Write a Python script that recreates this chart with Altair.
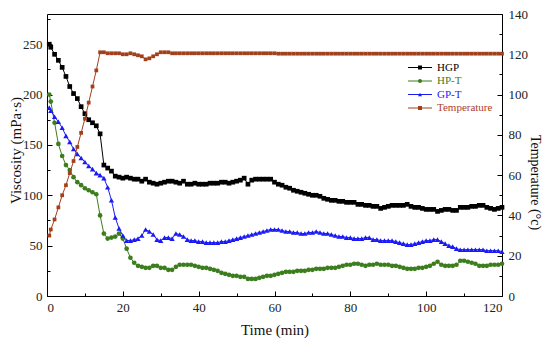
import altair as alt
import pandas as pd

FONT = "Liberation Serif"

# time axis (min)
times = [0.6] + list(range(1, 121))

hgp = [250,
       247, 240, 234, 227, 218, 208, 201, 196, 188, 181,
       175, 172, 169, 161, 130, 127, 124, 119, 118, 117,
       118, 117, 116, 116, 114, 116, 113, 112, 111, 112,
       113, 114, 114, 113, 112, 114, 111, 111, 112, 111,
       111, 111, 112, 112, 112, 113, 113, 112, 113, 114,
       115, 117, 111, 115, 116, 116, 116, 116, 116, 113,
       111, 110, 108, 107, 105, 104, 103, 102, 101, 100,
       100, 99, 97, 96, 95, 95, 94, 94, 93, 93,
       93, 91, 91, 90, 90, 89, 89, 87, 88, 89,
       90, 90, 90, 90, 91, 89, 88, 88, 87, 86,
       86, 86, 84, 85, 86, 86, 85, 85, 88, 88,
       88, 89, 89, 90, 90, 88, 87, 86, 87, 88]

hpt = [200,
       193, 172, 151, 139, 130, 125, 118, 113, 110, 107,
       105, 103, 101, 80, 62, 57, 58, 59, 62, 57,
       47, 38, 33, 30, 29, 28, 28, 30, 30, 28,
       28, 26, 26, 29, 31, 31, 31, 31, 30, 29,
       28, 28, 27, 26, 25, 23, 22, 21, 20, 20,
       19, 19, 17, 17, 17, 18, 19, 20, 20, 21,
       22, 23, 24, 24, 24, 25, 25, 25, 26, 26,
       27, 27, 27, 28, 28, 28, 29, 30, 31, 31,
       32, 32, 31, 30, 31, 31, 32, 31, 31, 31,
       30, 30, 29, 28, 27, 27, 27, 28, 28, 29,
       30, 32, 34, 31, 30, 30, 30, 31, 35, 35,
       34, 33, 32, 30, 30, 30, 31, 31, 31, 32]

gpt = [187,
       184, 178, 173, 167, 159, 153, 146, 141, 137, 133,
       129, 126, 122, 120, 117, 108, 95, 78, 67, 60,
       55, 55, 56, 57, 60, 66, 64, 61, 56, 55,
       58, 58, 57, 62, 61, 59, 56, 55, 55, 54,
       54, 53, 53, 53, 53, 54, 54, 55, 56, 57,
       58, 59, 60, 61, 62, 63, 64, 65, 66, 66,
       66, 65, 64, 64, 63, 63, 62, 62, 63, 63,
       64, 63, 62, 62, 61, 60, 59, 59, 58, 58,
       57, 57, 57, 58, 58, 56, 56, 55, 55, 55,
       55, 54, 53, 52, 51, 51, 52, 53, 54, 55,
       55, 56, 56, 54, 52, 50, 49, 47, 46, 46,
       46, 46, 46, 46, 46, 45, 45, 45, 45, 44]

temperature = [30,
               33, 38, 44, 50, 55, 61, 67, 74, 81, 88,
               96, 104, 112, 121, 121, 120.5, 120.5, 120.5, 120.5, 120,
               120, 120.5, 120, 119.5, 119, 117.5, 118, 119, 120, 121,
               121, 121, 120.5, 120.5, 120.5, 120.5, 120.5, 120.5, 120.5, 120.5,
               120.5, 120.5, 120.5, 120.5, 120.5, 120.5, 120.5, 120.5, 120.5, 120.5,
               120.5, 120.5, 120.5, 120.5, 120.5, 120.5, 120.5, 120.5, 120.5, 120.5,
               120.3, 120.3, 120.3, 120.3, 120.3, 120.3, 120.3, 120.3, 120.3, 120.3,
               120.3, 120.3, 120.3, 120.3, 120.3, 120.3, 120.3, 120.3, 120.3, 120.3,
               120.3, 120.3, 120.3, 120.3, 120.3, 120.3, 120.3, 120.3, 120.3, 120.3,
               120.3, 120.3, 120.3, 120.3, 120.3, 120.3, 120.3, 120.3, 120.3, 120.3,
               120.3, 120.3, 120.3, 120.3, 120.3, 120.3, 120.3, 120.3, 120.3, 120.3,
               120.3, 120.3, 120.3, 120.3, 120.3, 120.3, 120.3, 120.3, 120.3, 120.3]

series_names = ["HGP", "HP-T", "GP-T", "Temperature"]
line_colors = ["#000000", "#3c7d1e", "#1a1af5", "#a3401c"]
text_colors = ["#000000", "#3c7d1e", "#2020ff", "#b0402a"]
shapes = ["square", "circle", "triangle-up", "square"]
marker_sizes = [22, 22, 28, 14]

x_ticks = list(range(0, 121, 20))
x_minor = list(range(10, 120, 20))
v_ticks = list(range(0, 251, 50))
v_minor = list(range(25, 280, 50))
t_ticks = list(range(0, 141, 20))
t_minor = list(range(10, 140, 20))

W, H = 455, 282
X_SCALE = alt.Scale(domain=[0, 120], nice=False, zero=False)
V_SCALE = alt.Scale(domain=[0, 280], nice=False)
T_SCALE = alt.Scale(domain=[0, 140], nice=False)

LBL = dict(labelFont=FONT, labelFontSize=13, labelColor="#222222",
           titleFont=FONT, titleColor="#111111", titleFontWeight="normal")


def tick_axis(orient, offset, values, size):
    return alt.Axis(orient=orient, offset=offset, values=values, tickSize=size,
                    tickColor="black", tickWidth=1, labels=False, domain=False,
                    grid=False, title="")


x_main = alt.Axis(orient="bottom", values=x_ticks, ticks=False, domain=False, grid=False,
                  labelPadding=5, title="Time (min)", titleY=33, titleBaseline="middle",
                  titleFontSize=15, **LBL)
y_main = alt.Axis(orient="left", values=v_ticks, ticks=False, domain=False, grid=False,
                  labelPadding=5, title="Viscosity (mPa·s)", titleAngle=-90,
                  titleX=-32, titleY=136, titleBaseline="middle", titleFontSize=15, **LBL)
t_main = alt.Axis(orient="right", values=t_ticks, ticks=False, domain=False, grid=False,
                  labelPadding=6, title="Temperature (°c)", titleAngle=90,
                  titleX=32, titleY=168, titleBaseline="middle", titleFontSize=14, **LBL)


def series(vals, i, yscale, x_axis, y_axis):
    df = pd.DataFrame({"t": times, "v": vals})
    c = line_colors[i]
    return alt.Chart(df).mark_line(
        color=c, strokeWidth=1,
        point=alt.OverlayMarkDef(shape=shapes[i], size=marker_sizes[i], filled=True,
                                 color=c, opacity=1)
    ).encode(
        x=alt.X("t:Q", scale=X_SCALE, axis=x_axis),
        y=alt.Y("v:Q", scale=yscale, axis=y_axis),
    )


def ghost(vals, yscale, x_axis, y_axis):
    df = pd.DataFrame({"t": times, "v": vals})
    return alt.Chart(df).mark_line(opacity=0).encode(
        x=alt.X("t:Q", scale=X_SCALE, axis=x_axis),
        y=alt.Y("v:Q", scale=yscale, axis=y_axis),
    )


layers = [
    series(hgp, 0, V_SCALE, x_main, y_main),
    series(hpt, 1, V_SCALE, tick_axis("top", -H, x_ticks, 5), tick_axis("right", -W, v_ticks, 5)),
    series(gpt, 2, V_SCALE, tick_axis("top", -H, x_minor, 3), tick_axis("right", -W, v_minor, 3)),
    series(temperature, 3, T_SCALE, None, t_main),
    ghost(temperature, T_SCALE, None, tick_axis("left", -W, t_ticks, 5)),
    ghost(temperature, T_SCALE, None, tick_axis("left", -W, t_minor, 3)),
]

# legend (inside plot, upper right)
leg = pd.DataFrame({"name": series_names, "idx": [0, 1, 2, 3]})
color_enc = alt.Color("name:N", scale=alt.Scale(domain=series_names, range=line_colors), legend=None)
leg_base = alt.Chart(leg).transform_calculate(ly="53.5 + 13.5*datum.idx")
leg_line = leg_base.mark_rule(strokeWidth=1).encode(
    x=alt.value(361), x2=alt.value(385), y=alt.Y("ly:Q", scale=None, axis=None), color=color_enc)
leg_pt = leg_base.mark_point(filled=True, size=16, opacity=1).encode(
    x=alt.value(373), y=alt.Y("ly:Q", scale=None, axis=None), color=color_enc,
    shape=alt.Shape("name:N", scale=alt.Scale(domain=series_names, range=shapes), legend=None))
leg_txt = leg_base.mark_text(align="left", baseline="middle", font=FONT, fontSize=11).encode(
    x=alt.value(390), y=alt.Y("ly:Q", scale=None, axis=None),
    color=alt.Color("name:N", scale=alt.Scale(domain=series_names, range=text_colors), legend=None),
    text="name:N")

layers += [leg_line, leg_pt, leg_txt]

chart = alt.layer(*layers).resolve_scale(
    y="independent", color="independent"
).properties(
    width=W, height=H,
    autosize=alt.AutoSizeParams(type="none"),
    padding={"left": 39, "top": 6, "right": 40, "bottom": 43},
).configure_view(
    stroke="black", strokeWidth=1
)

chart.save("out.html", embed_options={"renderer": "svg", "actions": False})
